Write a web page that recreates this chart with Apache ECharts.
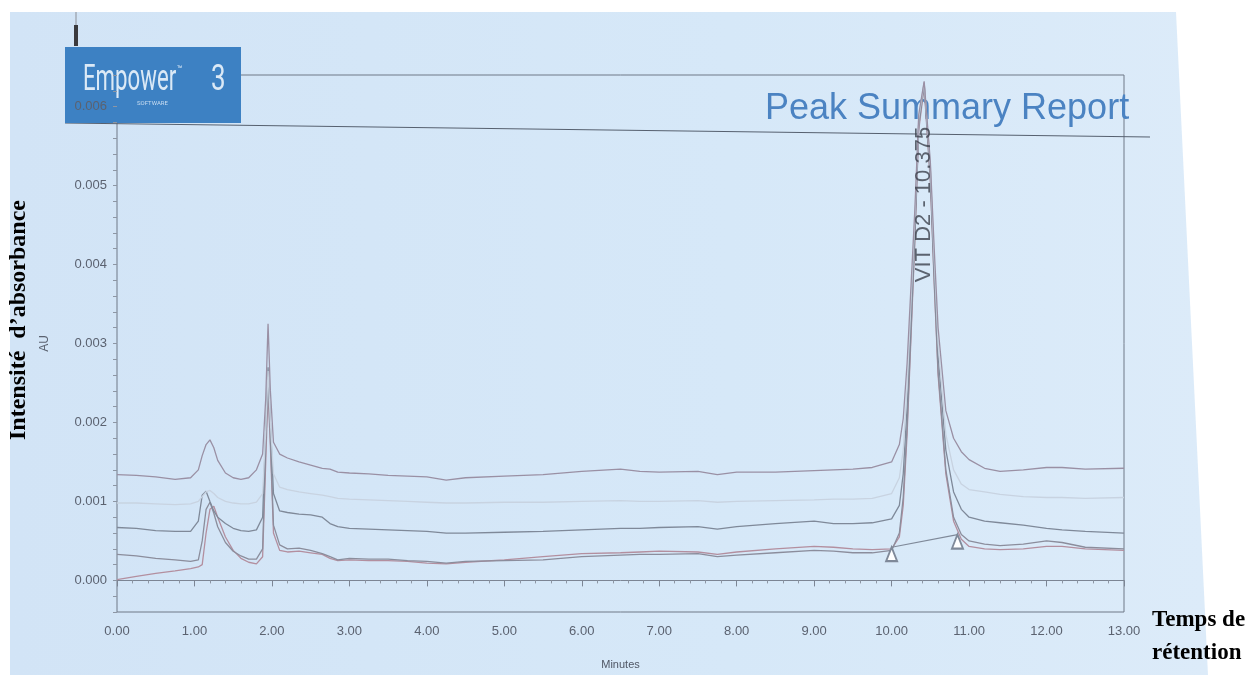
<!DOCTYPE html>
<html>
<head>
<meta charset="utf-8">
<title>Peak Summary Report</title>
<script src="https://cdn.jsdelivr.net/npm/echarts@6/dist/echarts.min.js"></script>
<style>
    html, body { margin: 0; padding: 0; background: #ffffff; }
    #main { width: 1256px; height: 675px; }
</style>
</head>
<body>
<div id="main"></div>
<script>
// retention time grid (minutes), shared by every trace
var minutes = [0, 0.25, 0.5, 0.75, 0.95, 1.05, 1.1, 1.15, 1.2, 1.25,
    1.3, 1.4, 1.5, 1.6, 1.7, 1.8, 1.88, 1.92, 1.95, 1.98,
    2.02, 2.1, 2.2, 2.35, 2.5, 2.65, 2.75, 2.85, 3.0, 3.25,
    3.5, 3.75, 4.0, 4.25, 4.5, 5.0, 5.5, 6.0, 6.5, 6.75,
    7.0, 7.5, 7.75, 8.0, 8.5, 9.0, 9.25, 9.5, 9.75, 10.0,
    10.1, 10.15, 10.2, 10.3, 10.35, 10.42, 10.5, 10.55, 10.6, 10.7,
    10.8, 10.9, 11.0, 11.2, 11.4, 11.7, 12.0, 12.2, 12.5, 13.0];

// absorbance (AU) of the injections
var traceA = [0.00134, 0.00133, 0.00131, 0.00128, 0.00130, 0.00140, 0.00158, 0.00172, 0.00178, 0.00168,
    0.00152, 0.00136, 0.00130, 0.00128, 0.00130, 0.00140, 0.00160, 0.00230, 0.00325, 0.00240,
    0.00175, 0.00160, 0.00155, 0.00150, 0.00146, 0.00142, 0.00141, 0.00137, 0.00136, 0.00135,
    0.00133, 0.00132, 0.00131, 0.00127, 0.00130, 0.00132, 0.00134, 0.00138, 0.00141, 0.00138,
    0.00137, 0.00138, 0.00134, 0.00137, 0.00137, 0.00139, 0.00140, 0.00141, 0.00143, 0.00150,
    0.00172, 0.00205, 0.00275, 0.00470, 0.00590, 0.00632, 0.00530, 0.00420, 0.00320, 0.00215,
    0.00180, 0.00163, 0.00153, 0.00142, 0.00138, 0.00140, 0.00143, 0.00143, 0.00141, 0.00142];

var traceB = [0.00098, 0.00098, 0.00097, 0.00096, 0.00097, 0.00100, 0.00106, 0.00112, 0.00114, 0.00110,
    0.00105, 0.00100, 0.00098, 0.00097, 0.00097, 0.00099, 0.00110, 0.00190, 0.00265, 0.00200,
    0.00135, 0.00118, 0.00115, 0.00112, 0.00110, 0.00108, 0.00106, 0.00104, 0.00103, 0.00102,
    0.00101, 0.00100, 0.00099, 0.00098, 0.00098, 0.00099, 0.00099, 0.00100, 0.00101, 0.00100,
    0.00100, 0.00101, 0.00099, 0.00100, 0.00101, 0.00102, 0.00103, 0.00103, 0.00104, 0.00110,
    0.00130, 0.00165, 0.00245, 0.00460, 0.00585, 0.00631, 0.00525, 0.00405, 0.00300, 0.00185,
    0.00140, 0.00122, 0.00115, 0.00112, 0.00109, 0.00106, 0.00105, 0.00105, 0.00104, 0.00105];

var traceC = [0.00067, 0.00066, 0.00063, 0.00062, 0.00062, 0.00075, 0.00108, 0.00113, 0.00100, 0.00088,
    0.00080, 0.00072, 0.00066, 0.00063, 0.00062, 0.00064, 0.00080, 0.00190, 0.00270, 0.00200,
    0.00110, 0.00088, 0.00086, 0.00084, 0.00083, 0.00080, 0.00072, 0.00068, 0.00066, 0.00065,
    0.00064, 0.00063, 0.00062, 0.00060, 0.00060, 0.00061, 0.00062, 0.00064, 0.00066, 0.00066,
    0.00067, 0.00068, 0.00065, 0.00068, 0.00072, 0.00075, 0.00072, 0.00072, 0.00073, 0.00078,
    0.00095, 0.00135, 0.00220, 0.00450, 0.00580, 0.00630, 0.00520, 0.00395, 0.00285, 0.00165,
    0.00112, 0.00090, 0.00080, 0.00075, 0.00073, 0.00070, 0.00066, 0.00064, 0.00062, 0.00060];

var traceD = [0.00033, 0.00031, 0.00028, 0.00026, 0.00024, 0.00026, 0.00050, 0.00090, 0.00099, 0.00085,
    0.00068, 0.00048, 0.00037, 0.00031, 0.00027, 0.00027, 0.00040, 0.00170, 0.00250, 0.00180,
    0.00070, 0.00045, 0.00040, 0.00041, 0.00038, 0.00034, 0.00030, 0.00026, 0.00028, 0.00027,
    0.00027, 0.00025, 0.00024, 0.00022, 0.00024, 0.00025, 0.00026, 0.00030, 0.00032, 0.00033,
    0.00033, 0.00034, 0.00030, 0.00032, 0.00035, 0.00038, 0.00037, 0.00035, 0.00035, 0.00038,
    0.00060, 0.00105, 0.00195, 0.00435, 0.00575, 0.00628, 0.00510, 0.00380, 0.00265, 0.00140,
    0.00080, 0.00058, 0.00050, 0.00046, 0.00044, 0.00046, 0.00050, 0.00048, 0.00042, 0.00040];

var traceE = [0.00001, 0.00005, 0.00009, 0.00012, 0.00015, 0.00017, 0.00020, 0.00060, 0.00090, 0.00094,
    0.00080, 0.00055, 0.00038, 0.00028, 0.00023, 0.00021, 0.00030, 0.00150, 0.00240, 0.00170,
    0.00060, 0.00038, 0.00036, 0.00037, 0.00035, 0.00033, 0.00028, 0.00025, 0.00026, 0.00025,
    0.00025, 0.00024, 0.00022, 0.00021, 0.00023, 0.00026, 0.00030, 0.00034, 0.00035, 0.00036,
    0.00037, 0.00036, 0.00033, 0.00036, 0.00040, 0.00043, 0.00042, 0.00040, 0.00039, 0.00040,
    0.00055, 0.00095, 0.00185, 0.00430, 0.00570, 0.00625, 0.00505, 0.00375, 0.00260, 0.00135,
    0.00075, 0.00052, 0.00043, 0.00040, 0.00039, 0.00040, 0.00043, 0.00043, 0.00040, 0.00038];

var traceColors = ['#9a90a4', '#c8d3e1', '#7f8999', '#8b8d9c', '#b38f9f'];

// integration baseline under the VIT D2 peak (start / end markers)
var baselineMinutes = [10.0, 10.85];
var baselineAU = [0.00042, 0.00058];

// peak annotation
var peakName = 'VIT D2 - 10.375';
var peakLabelAt = [10.42, 0.00476];

function pairs(values) {
    return minutes.map(function (t, i) { return [t, values[i]]; });
}

var myChart = echarts.init(document.getElementById('main'), null, { renderer: 'canvas' });

var traces = [traceE, traceD, traceC, traceB, traceA];
var colorOrder = [traceColors[4], traceColors[3], traceColors[2], traceColors[1], traceColors[0]];
var series = traces.map(function (vals, i) {
    return {
        type: 'line',
        data: pairs(vals),
        symbol: 'none',
        z: 2 + i,
        lineStyle: { color: colorOrder[i], width: 1.3 },
        clip: true
    };
});

series.push({
    type: 'line',
    data: baselineMinutes.map(function (t, i) { return [t, baselineAU[i]]; }),
    symbol: 'emptyTriangle',
    symbolSize: [11, 14],
    symbolOffset: [0, 7],
    showSymbol: true,
    z: 8,
    lineStyle: { color: '#7f8999', width: 1.2 },
    itemStyle: { color: '#7f8999', borderColor: '#7f8999', borderWidth: 1.2 }
});

series.push({
    type: 'scatter',
    data: [peakLabelAt],
    symbolSize: 0,
    z: 9,
    label: {
        show: true,
        position: 'inside',
        rotate: 90,
        formatter: peakName,
        fontFamily: 'Liberation Sans',
        fontSize: 22,
        color: '#3c414c'
    }
});

myChart.setOption({
    animation: false,
    backgroundColor: '#ffffff',
    grid: {
        left: 117, right: 132, top: 75, bottom: 63,
        show: true,
        borderColor: '#6f7887',
        borderWidth: 1,
        backgroundColor: 'transparent'
    },
    xAxis: {
        type: 'value',
        min: 0, max: 13, interval: 1,
        name: 'Minutes',
        nameLocation: 'middle',
        nameGap: 47,
        nameTextStyle: { fontFamily: 'Liberation Sans', fontSize: 11, color: '#4f5664' },
        axisLine: { show: true, lineStyle: { color: '#7c8594' } },
        axisTick: { show: true, length: 6, lineStyle: { color: '#7c8594' } },
        minorTick: { show: true, splitNumber: 5, length: 3, lineStyle: { color: '#8d96a4' } },
        splitLine: { show: false },
        axisLabel: {
            margin: 13,
            fontFamily: 'Liberation Sans', fontSize: 13, color: '#5b6270',
            formatter: function (v) { return v.toFixed(2); }
        }
    },
    yAxis: {
        type: 'value',
        min: -0.0004, max: 0.0064, interval: 0.0002,
        z: 3,
        name: 'AU',
        nameLocation: 'middle',
        nameGap: 66,
        nameTextStyle: { fontFamily: 'Liberation Sans', fontSize: 12, color: '#5b6270' },
        axisLine: { show: false },
        axisTick: { show: true, length: 4, lineStyle: { color: '#8d96a4' } },
        splitLine: { show: false },
        axisLabel: {
            margin: 10,
            fontFamily: 'Liberation Sans', fontSize: 13, color: '#5b6270',
            formatter: function (v) {
                var k = Math.round(v * 10000);
                return (k >= 0 && k % 10 === 0) ? (k / 10000).toFixed(3) : '';
            }
        }
    },
    graphic: [
        {
            type: 'polygon', z: -10, silent: true,
            shape: { points: [[10, 12], [1176, 12], [1208, 675], [10, 675]] },
            style: {
                fill: new echarts.graphic.LinearGradient(0, 0, 1, 0, [
                    { offset: 0, color: '#d2e4f6' },
                    { offset: 0.6, color: '#d6e8f8' },
                    { offset: 1, color: '#dcebf9' }
                ])
            }
        },
        // header band rule
        {
            type: 'line', z: 1, silent: true,
            shape: { x1: 65, y1: 123, x2: 1150, y2: 137 },
            style: { stroke: '#56606f', lineWidth: 1.2 }
        },
        // mark at the top of the sheet
        {
            type: 'line', z: 1, silent: true,
            shape: { x1: 76, y1: 12, x2: 76, y2: 26 },
            style: { stroke: '#8c8f96', lineWidth: 1 }
        },
        {
            type: 'line', z: 1, silent: true,
            shape: { x1: 76, y1: 25, x2: 76, y2: 46 },
            style: { stroke: '#3a3a3e', lineWidth: 4 }
        },
        // Empower logo
        {
            type: 'rect', z: 1, silent: true,
            shape: { x: 65, y: 47, width: 176, height: 76 },
            style: { fill: '#3d81c3' }
        },
        {
            type: 'text', z: 2, silent: true,
            x: 83, y: 81, scaleX: 0.6,
            style: {
                text: 'Empower', fill: '#dbe9f6',
                font: '400 37px Roboto', verticalAlign: 'middle'
            }
        },
        {
            type: 'text', z: 2, silent: true,
            x: 177, y: 70,
            style: { text: '\u2122', fill: '#dbe9f6', font: '9px Roboto', verticalAlign: 'middle' }
        },
        {
            type: 'text', z: 2, silent: true,
            x: 211, y: 81, scaleX: 0.7,
            style: { text: '3', fill: '#dbe9f6', font: '400 37px Roboto', verticalAlign: 'middle' }
        },
        {
            type: 'text', z: 2, silent: true,
            x: 137, y: 103,
            style: { text: 'SOFTWARE', fill: '#c9ddf1', font: '6px Roboto', verticalAlign: 'middle' }
        },
        {
            type: 'text', z: 1, silent: true,
            x: 765, y: 109,
            style: {
                text: 'Peak Summary Report', fill: '#4b83c2',
                font: '36px "Liberation Sans"', verticalAlign: 'middle'
            }
        },
        // titles added around the print
        {
            type: 'text', z: 4, silent: true,
            x: 19, y: 320, rotation: Math.PI / 2,
            style: {
                text: 'Intensité  d\u2019absorbance', fill: '#000000',
                font: 'bold 24px "Liberation Serif"', align: 'center', verticalAlign: 'middle'
            }
        },
        {
            type: 'text', z: 4, silent: true,
            x: 1152, y: 637,
            style: {
                text: 'Temps de\nrétention', fill: '#000000',
                font: 'bold 23px "Liberation Serif"', lineHeight: 33,
                align: 'left', verticalAlign: 'middle'
            }
        }
    ],
    series: series
});
</script>
</body>
</html>
